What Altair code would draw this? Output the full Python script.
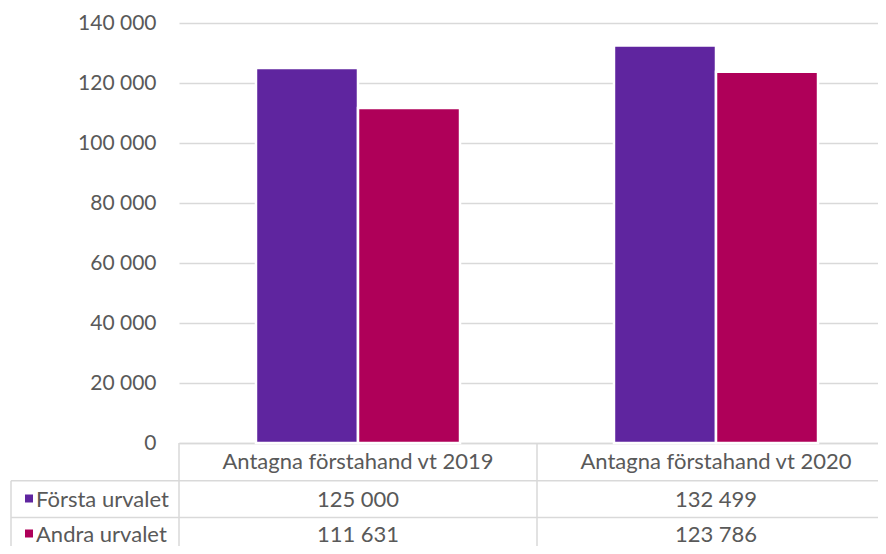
import altair as alt
import pandas as pd

categories = ["Antagna förstahand vt 2019", "Antagna förstahand vt 2020"]
series = ["Första urvalet", "Andra urvalet"]
forsta = [125000, 132499]
andra = [111631, 123786]
colors = ["#5f259f", "#af0059"]

rows = []
for s, vals in zip(series, [forsta, andra]):
    for c, v in zip(categories, vals):
        rows.append({"cat": c, "series": s, "value": v,
                     "label": f"{v:,}".replace(",", " ")})
df = pd.DataFrame(rows)

FONT = "Lato"
TXT = "#595959"
GRID = "#d9d9d9"
FS = 22
AFS = 21

xscale = alt.Scale(domain=categories, range=[0, 716], paddingInner=0.43, paddingOuter=0.215)
yscale = alt.Scale(domain=[0, 140000], nice=False)

bars = alt.Chart(df).mark_bar(stroke="white", strokeWidth=2.5).encode(
    x=alt.X("cat:N", scale=xscale, sort=categories,
            axis=alt.Axis(title=None, labels=False, ticks=False, domain=True,
                          domainColor=GRID, domainWidth=1.5)),
    xOffset=alt.XOffset("series:N", sort=series, scale=alt.Scale(paddingInner=0, paddingOuter=0)),
    y=alt.Y("value:Q", scale=yscale,
            axis=alt.Axis(title=None, values=[0, 20000, 40000, 60000, 80000, 100000, 120000, 140000],
                          labelExpr="replace(format(datum.value, ','), ',', ' ')",
                          grid=True, gridColor=GRID, gridWidth=1.5, domain=False, ticks=False,
                          labelFont=FONT, labelFontSize=AFS, labelColor=TXT, labelPadding=23)),
    color=alt.Color("series:N", sort=series, scale=alt.Scale(domain=series, range=colors), legend=None),
)

hdr_df = pd.DataFrame({"cat": categories})
header = alt.Chart(hdr_df).mark_text(font=FONT, fontSize=FS, color=TXT, baseline="middle").encode(
    x=alt.X("cat:N", scale=xscale, sort=categories),
    y=alt.value(439),
    text="cat:N",
)

row_y = {series[0]: 476.5, series[1]: 511.5}
layers = [bars, header]
for s, col in zip(series, colors):
    sub = df[df.series == s]
    layers.append(alt.Chart(sub).mark_text(font=FONT, fontSize=FS, color=TXT, baseline="middle").encode(
        x=alt.X("cat:N", scale=xscale, sort=categories),
        y=alt.value(row_y[s]),
        text="label:N",
    ))
    lab = pd.DataFrame({"series": [s]})
    layers.append(alt.Chart(lab).mark_text(font=FONT, fontSize=FS, color=TXT, baseline="middle", align="left").encode(
        x=alt.value(-143), y=alt.value(row_y[s]), text="series:N"))
    layers.append(alt.Chart(lab).mark_square(size=64, opacity=1, color=col).encode(
        x=alt.value(-150), y=alt.value(row_y[s] - 1)))

lines = pd.DataFrame({
    "x": [-168, -168, 0, 358, -168],
    "x2": [720, 720, 0, 358, -168],
    "y": [457.7, 494.5, 420, 420, 457.7],
    "y2": [457.7, 494.5, 540, 540, 540],
})
for _, r in lines.iterrows():
    layers.append(alt.Chart(pd.DataFrame({"a": [0]})).mark_rule(color=GRID, strokeWidth=1.5).encode(
        x=alt.value(r.x), x2=alt.value(r.x2), y=alt.value(r.y), y2=alt.value(r.y2)))

chart = alt.layer(*layers).properties(
    width=699, height=420,
    autosize=alt.AutoSizeParams(type="none"),
    padding={"left": 171, "top": 15, "right": 0, "bottom": 103},
).configure_view(stroke=None)

chart.save("out.html", embed_options={"renderer": "svg", "actions": False})
